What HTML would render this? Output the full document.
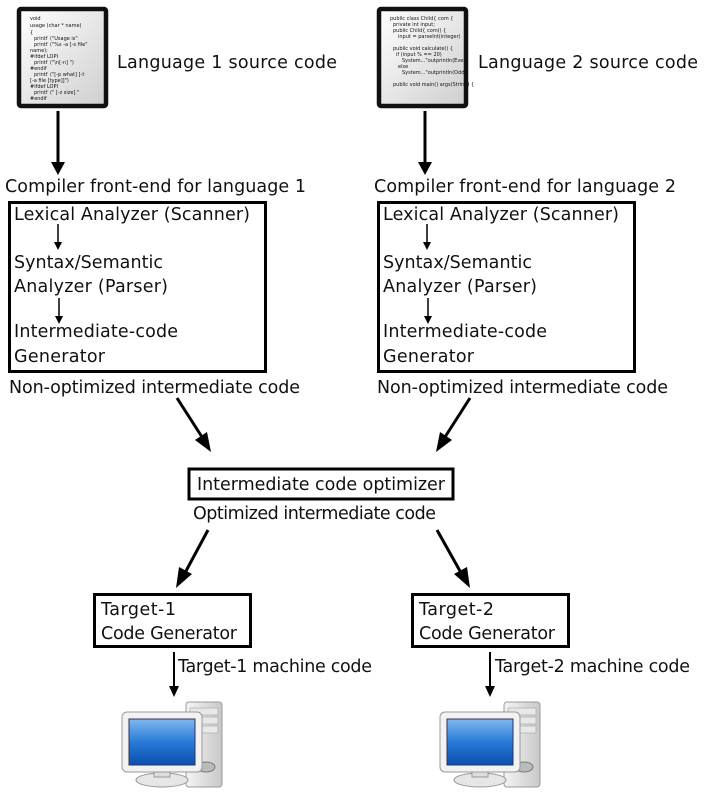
<!DOCTYPE html>
<html><head><meta charset="utf-8"><style>
html,body{margin:0;padding:0;background:#fff;}
svg{display:block;}
text{font-family:"DejaVu Sans","Liberation Sans",sans-serif;font-size:17.5px;fill:#111;}
.s{font-size:5px;}
</style></head><body>
<svg width="712" height="794" viewBox="0 0 712 794" xmlns="http://www.w3.org/2000/svg">
<defs>
<linearGradient id="pg" x1="0" y1="0" x2="1" y2="1"><stop offset="0" stop-color="#fff"/><stop offset="1" stop-color="#cfcfcf"/></linearGradient>
<linearGradient id="scr" x1="0" y1="0" x2="0" y2="1"><stop offset="0" stop-color="#7fb8f0"/><stop offset="0.5" stop-color="#2a7ad8"/><stop offset="1" stop-color="#0a4fae"/></linearGradient>
<linearGradient id="case" x1="0" y1="0" x2="1" y2="0"><stop offset="0" stop-color="#f4f4f4"/><stop offset="1" stop-color="#c8c8c8"/></linearGradient>
<g id="pc">
 <rect x="64" y="2" width="36" height="85" rx="3" fill="url(#case)" stroke="#999"/>
 <rect x="68" y="8" width="28" height="7" fill="#e8e8e8" stroke="#aaa" stroke-width="0.7"/>
 <rect x="68" y="17" width="28" height="7" fill="#e8e8e8" stroke="#aaa" stroke-width="0.7"/>
 <rect x="68" y="26" width="28" height="7" fill="#e8e8e8" stroke="#aaa" stroke-width="0.7"/>
 <ellipse cx="84" cy="67" rx="9" ry="5" fill="#bbb" stroke="#777"/>
 <circle cx="76" cy="68" r="1.5" fill="#3c3"/>
 <ellipse cx="40" cy="80" rx="26" ry="7" fill="#e6e6e6" stroke="#999"/>
 <rect x="32" y="66" width="16" height="11" fill="#ddd" stroke="#999"/>
 <rect x="0" y="12" width="80" height="60" rx="5" fill="#f2f2f2" stroke="#999"/>
 <rect x="7" y="19" width="66" height="46" fill="url(#scr)" stroke="#335"/>
</g>
<g id="ar"><polygon points="-7,0 7,0 0,13" fill="#000"/></g>
</defs>

<rect x="19" y="9" width="87" height="97" rx="2" fill="url(#pg)" stroke="#111" stroke-width="4.5"/>
<text x="30" y="20" class="s">void</text>
<text x="30" y="27" class="s">usage (char * name)</text>
<text x="30" y="34" class="s">{</text>
<text x="34" y="40" class="s" fill="#33f">printf</text><text x="50" y="40" class="s" fill="#e33">("Usage is"</text>
<text x="34" y="46" class="s" fill="#33f">printf</text><text x="50" y="46" class="s" fill="#e33">("%s -a [-s file"</text>
<text x="30" y="52" class="s">name);</text>
<text x="30" y="58" class="s" fill="#393">#ifdef LOPI</text>
<text x="34" y="64" class="s" fill="#33f">printf</text><text x="50" y="64" class="s">("\n[-n] ")</text>
<text x="30" y="70" class="s" fill="#393">#endif</text>
<text x="34" y="76" class="s" fill="#33f">printf</text><text x="50" y="76" class="s" fill="#e33">("[-p what] [-t</text>
<text x="30" y="82" class="s" fill="#e33">[-a file [type]]")</text>
<text x="30" y="88" class="s" fill="#393">#ifdef LOPI</text>
<text x="34" y="94" class="s" fill="#33f">printf</text><text x="50" y="94" class="s" fill="#e33">(" [-z size] "</text>
<text x="30" y="100" class="s" fill="#393">#endif</text>
<text x="117" y="68" textLength="220">Language 1 source code</text>

<rect x="379" y="9" width="87" height="97" rx="2" fill="url(#pg)" stroke="#111" stroke-width="4.5"/>
<text x="390" y="20" class="s" fill="#33f">public class Child{ com {</text>
<text x="393" y="26" class="s" fill="#e33">private int input;</text>
<text x="393" y="32" class="s" fill="#33f">public Child{ com() {</text>
<text x="398" y="38" class="s">input = parseInt(integer)</text>
<text x="393" y="50" class="s" fill="#33f">public void calculate() {</text>
<text x="396" y="56" class="s">if (input % == 20)</text>
<text x="402" y="62" class="s" fill="#2aa">System..."outprintln(Even)</text>
<text x="398" y="68" class="s" fill="#33f">else</text>
<text x="402" y="74" class="s" fill="#2aa">System..."outprintln(Odd)</text>
<text x="393" y="86" class="s" fill="#33f">public void main() args(String) {</text>
<text x="478" y="68" textLength="220">Language 2 source code</text>

<line x1="58" y1="111" x2="58" y2="164" stroke="#000" stroke-width="3"/>
<use href="#ar" x="58" y="162"/>
<line x1="425" y1="111" x2="425" y2="164" stroke="#000" stroke-width="3"/>
<use href="#ar" x="425" y="162"/>

<text x="5" y="192" textLength="301">Compiler front-end for language 1</text>
<text x="374" y="192" textLength="302">Compiler front-end for language 2</text>

<rect x="9.5" y="202.5" width="256" height="169" fill="none" stroke="#000" stroke-width="3"/>
<text x="14" y="220" textLength="236">Lexical Analyzer (Scanner)</text>
<line x1="58" y1="224" x2="58" y2="244" stroke="#000" stroke-width="1.5"/>
<polygon points="54,242 62,242 58,250" fill="#000"/>
<text x="14" y="268" textLength="149">Syntax/Semantic</text>
<text x="14" y="292" textLength="154">Analyzer (Parser)</text>
<line x1="59" y1="298" x2="59" y2="318" stroke="#000" stroke-width="1.5"/>
<polygon points="55,316 63,316 59,324" fill="#000"/>
<text x="14" y="337" textLength="164">Intermediate-code</text>
<text x="14" y="362" textLength="91">Generator</text>
<text x="9" y="393" textLength="291">Non-optimized intermediate code</text>

<rect x="378.5" y="202.5" width="256" height="169" fill="none" stroke="#000" stroke-width="3"/>
<text x="383" y="220" textLength="236">Lexical Analyzer (Scanner)</text>
<line x1="427" y1="224" x2="427" y2="244" stroke="#000" stroke-width="1.5"/>
<polygon points="423,242 431,242 427,250" fill="#000"/>
<text x="383" y="268" textLength="149">Syntax/Semantic</text>
<text x="383" y="292" textLength="154">Analyzer (Parser)</text>
<line x1="428" y1="298" x2="428" y2="318" stroke="#000" stroke-width="1.5"/>
<polygon points="424,316 432,316 428,324" fill="#000"/>
<text x="383" y="337" textLength="164">Intermediate-code</text>
<text x="383" y="362" textLength="91">Generator</text>
<text x="377" y="393" textLength="291">Non-optimized intermediate code</text>

<line x1="177" y1="398" x2="202" y2="437" stroke="#000" stroke-width="3"/>
<polygon points="195,440 207,432 211,452" fill="#000"/>
<line x1="470" y1="398" x2="445" y2="437" stroke="#000" stroke-width="3"/>
<polygon points="452,440 440,432 436,452" fill="#000"/>

<rect x="189" y="469" width="264" height="30" fill="none" stroke="#000" stroke-width="3"/>
<text x="197" y="490" textLength="248">Intermediate code optimizer</text>
<text x="193" y="519" textLength="243">Optimized intermediate code</text>

<line x1="208" y1="530" x2="186" y2="571" stroke="#000" stroke-width="3"/>
<polygon points="179,567 192,574 176,588" fill="#000"/>
<line x1="437" y1="530" x2="460" y2="571" stroke="#000" stroke-width="3"/>
<polygon points="467,567 454,574 470,588" fill="#000"/>

<rect x="94.5" y="594.5" width="156" height="52" fill="none" stroke="#000" stroke-width="3"/>
<text x="101" y="615" textLength="75">Target-1</text>
<text x="101" y="639" textLength="136">Code Generator</text>
<rect x="412.5" y="594.5" width="156" height="52" fill="none" stroke="#000" stroke-width="3"/>
<text x="419" y="615" textLength="75">Target-2</text>
<text x="419" y="639" textLength="136">Code Generator</text>

<line x1="174" y1="652" x2="174" y2="688" stroke="#000" stroke-width="2"/>
<polygon points="169,686 179,686 174,697" fill="#000"/>
<text x="178" y="672" textLength="194">Target-1 machine code</text>
<line x1="490" y1="652" x2="490" y2="688" stroke="#000" stroke-width="2"/>
<polygon points="485,686 495,686 490,697" fill="#000"/>
<text x="495" y="672" textLength="195">Target-2 machine code</text>

<use href="#pc" x="122" y="700"/>
<use href="#pc" x="440" y="700"/>
</svg>
</body></html>
